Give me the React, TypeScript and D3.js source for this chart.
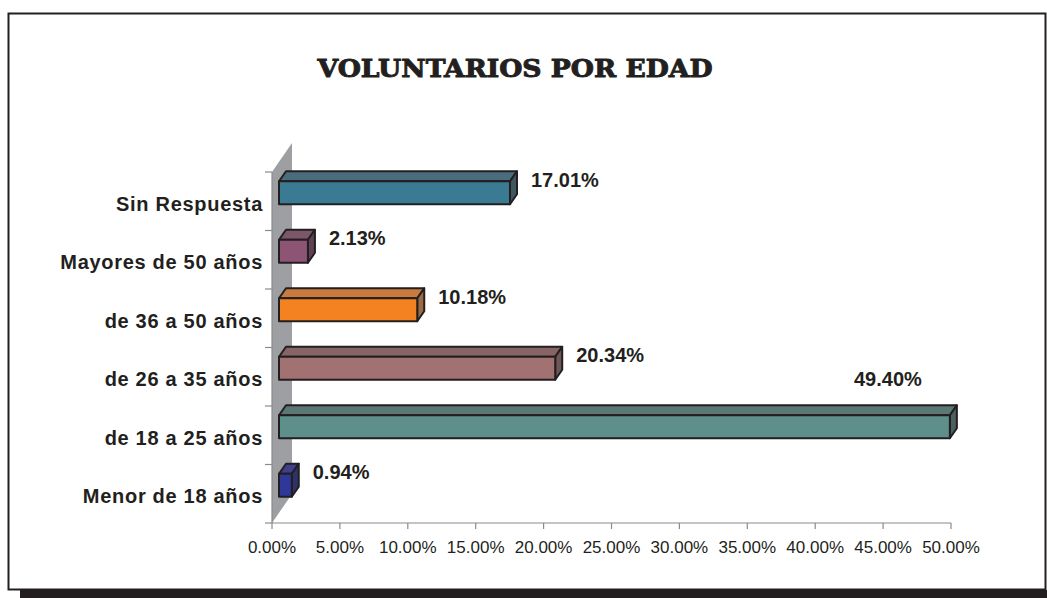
import React from "react";
import * as d3 from "d3";

// data
const categories = [
  "Sin Respuesta",
  "Mayores de 50 años",
  "de 36 a 50 años",
  "de 26 a 35 años",
  "de 18 a 25 años",
  "Menor de 18 años",
];
const values = [17.01, 2.13, 10.18, 20.34, 49.4, 0.94];
const ticks = [0, 5, 10, 15, 20, 25, 30, 35, 40, 45, 50];

// face colours: front, top, side
const frontColors = ["#3b7a93", "#8e5473", "#f58220", "#a27171", "#5f8f8a", "#2e3899"];
const topColors = ["#4a6d7d", "#7d5669", "#c77b3e", "#876466", "#5b7874", "#3f3f8c"];
const sideColors = ["#3d5660", "#5e4253", "#9d6a42", "#6f5758", "#4a615e", "#30316b"];

const W = 1047;
const H = 598;
const INK = "#231f20";

export default function App() {
  const x = d3.scaleLinear().domain([0, 50]).range([272, 951]);
  const y = d3.scaleBand().domain(categories).range([172, 523]);

  // 3d offsets
  const wallDx = 20, wallDy = -29;
  const frontDx = 7, frontDy = -10;
  const depthDx = 7, depthDy = -10;
  const barH = 23;

  const x0 = x(0);
  const yTop = y.range()[0];
  const yBot = y.range()[1];

  const pts = (p: number[][]) => p.map((d) => d.join(",")).join(" ");

  return (
    <svg
      width={W}
      height={H}
      style={{ position: "absolute", left: 0, top: 0, background: "#fff" }}
      fontFamily="'Liberation Sans', Arial, sans-serif"
    >
      {/* frame + shadow */}
      <rect x={20} y={590} width={W - 20} height={8} fill={INK} />
      <rect x={8.5} y={13.5} width={1037} height={576} fill="#fff" stroke={INK} strokeWidth={2} />

      <text
        x={515}
        y={77}
        textAnchor="middle"
        fontFamily="'DejaVu Serif', serif"
        fontWeight={900}
        fontSize={24}
        textLength={395}
        lengthAdjust="spacingAndGlyphs"
        fill={INK}
        stroke={INK}
        strokeWidth={0.9}
      >
        VOLUNTARIOS POR EDAD
      </text>

      {/* side wall */}
      <polygon
        points={pts([
          [x0, yTop],
          [x0 + wallDx, yTop + wallDy],
          [x0 + wallDx, yBot + wallDy],
          [x0, yBot],
        ])}
        fill="#9d9fa2"
      />
      <line x1={x0} x2={x0} y1={yTop} y2={yBot} stroke="#8a8a8a" strokeWidth={1.2} />
      <line x1={x0} x2={x(50)} y1={yBot} y2={yBot} stroke="#8a8a8a" strokeWidth={1.2} />

      {/* category ticks */}
      {[...categories.map((c) => y(c) as number), yBot].map((t, i) => (
        <line key={i} x1={x0 - 7} x2={x0} y1={t} y2={t} stroke="#8a8a8a" strokeWidth={1.2} />
      ))}

      {/* x ticks */}
      {ticks.map((t) => (
        <g key={t}>
          <line x1={x(t)} x2={x(t)} y1={yBot} y2={yBot + 6} stroke="#8a8a8a" strokeWidth={1.2} />
          <text x={x(t)} y={553} textAnchor="middle" fontSize={17} fill={INK}>
            {t.toFixed(2) + "%"}
          </text>
        </g>
      ))}

      {/* category labels */}
      {categories.map((c) => (
        <text
          key={c}
          x={263}
          y={(y(c) as number) + y.bandwidth() / 2 + 9.5}
          textAnchor="end"
          fontSize={20}
          fontWeight="bold"
          letterSpacing={0.7}
          fill={INK}
        >
          {c}
        </text>
      ))}

      {/* bars */}
      {categories.map((c, i) => {
        const v = values[i];
        const cy = (y(c) as number) + y.bandwidth() / 2 + 1.5;
        const fx0 = x(0) + frontDx;
        const fx1 = x(v) + frontDx;
        const fy0 = cy - barH / 2 + frontDy;
        const fy1 = fy0 + barH;
        const label = v.toFixed(2) + "%";
        const labelW = label.length * 11.3;
        // labels that would run past the axis end sit above the bar instead
        const fitsRight = fx1 + 21 + labelW < x(50);
        return (
          <g key={c} stroke={INK} strokeWidth={2} strokeLinejoin="round">
            <polygon
              points={pts([
                [fx0, fy0],
                [fx0 + depthDx, fy0 + depthDy],
                [fx1 + depthDx, fy0 + depthDy],
                [fx1, fy0],
              ])}
              fill={topColors[i]}
            />
            <polygon
              points={pts([
                [fx1, fy0],
                [fx1 + depthDx, fy0 + depthDy],
                [fx1 + depthDx, fy1 + depthDy],
                [fx1, fy1],
              ])}
              fill={sideColors[i]}
            />
            <rect x={fx0} y={fy0} width={fx1 - fx0} height={barH} fill={frontColors[i]} />
            <text
              x={fitsRight ? fx1 + 21 : fx1 - 28}
              y={fitsRight ? cy - 16 : cy - 50.5}
              textAnchor={fitsRight ? "start" : "end"}
              fontSize={20}
              fontWeight="bold"
              stroke="none"
              fill={INK}
            >
              {label}
            </text>
          </g>
        );
      })}
    </svg>
  );
}
